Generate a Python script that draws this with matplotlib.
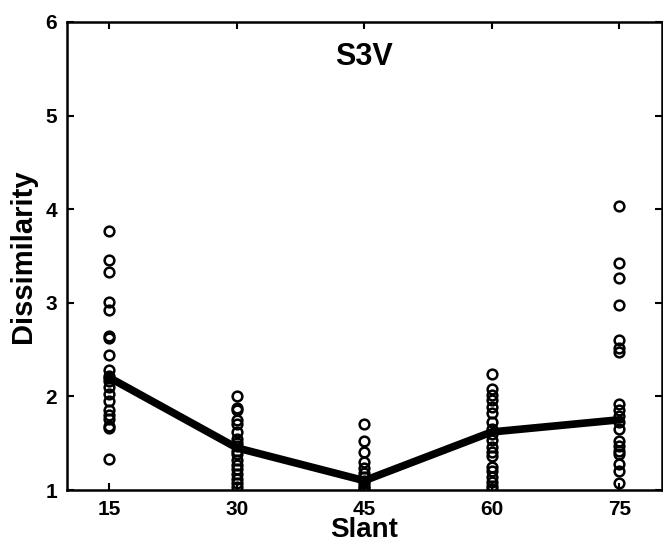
import matplotlib
matplotlib.use("Agg")
from matplotlib import pyplot as plt
import numpy as np

# slant conditions and the individual dissimilarity ratings
slants = [15, 30, 45, 60, 75]

s15 = [3.77, 3.46, 3.33, 3.01, 2.92, 2.64, 2.62, 2.44, 2.28, 2.22, 2.20,
       2.16, 2.10, 2.03, 1.95, 1.85, 1.80, 1.76, 1.68, 1.66, 1.33]
s30 = [2.00, 1.88, 1.85, 1.75, 1.70, 1.62, 1.55, 1.50, 1.47, 1.42, 1.38,
       1.32, 1.27, 1.22, 1.17, 1.12, 1.07, 1.03]
s45 = [1.70, 1.52, 1.41, 1.30, 1.23, 1.18, 1.14, 1.10, 1.07, 1.04, 1.02, 1.00]
s60 = [2.24, 2.08, 2.01, 1.96, 1.89, 1.82, 1.73, 1.65, 1.60, 1.53, 1.46,
       1.41, 1.36, 1.25, 1.20, 1.14, 1.09, 1.04, 1.01]
s75 = [4.03, 3.43, 3.27, 2.98, 2.60, 2.52, 2.47, 1.92, 1.85, 1.79, 1.73,
       1.65, 1.52, 1.47, 1.42, 1.38, 1.28, 1.20, 1.07]

# average curve drawn through the clouds
avg = [2.20, 1.45, 1.10, 1.62, 1.75]

xticks = [15, 30, 45, 60, 75]
yticks = [1, 2, 3, 4, 5, 6]

plt.rcParams['font.family'] = ['Liberation Sans', 'DejaVu Sans']
plt.rcParams['font.weight'] = 'bold'

fig = plt.figure(figsize=(6.63, 5.43), dpi=100)
ax = fig.add_axes([0.101, 0.0976, 0.897, 0.862])

for x, vals in zip(slants, [s15, s30, s45, s60, s75]):
    ax.plot([x] * len(vals), vals, 'o', mfc='none', mec='black',
            ms=7, mew=1.8, zorder=2)

ax.plot(slants, avg, '-', color='black', lw=5.5, zorder=3)

ax.set_xlim(10, 80)
ax.set_ylim(1, 6)
ax.set_xticks(xticks)
ax.set_yticks(yticks)
ax.tick_params(direction='in', length=5, width=1.5, top=True, right=True,
               labelsize=15, pad=7)
for sp in ax.spines.values():
    sp.set_linewidth(1.8)

ax.set_xlabel('Slant', fontsize=20, fontweight='bold', labelpad=-1)
ax.set_ylabel('Dissimilarity', fontsize=21, fontweight='bold', labelpad=6)
ax.text(0.5, 0.925, 'S3V', transform=ax.transAxes, ha='center', va='center',
        fontsize=22, fontweight='bold')

fig.savefig('out.png', dpi=100)
